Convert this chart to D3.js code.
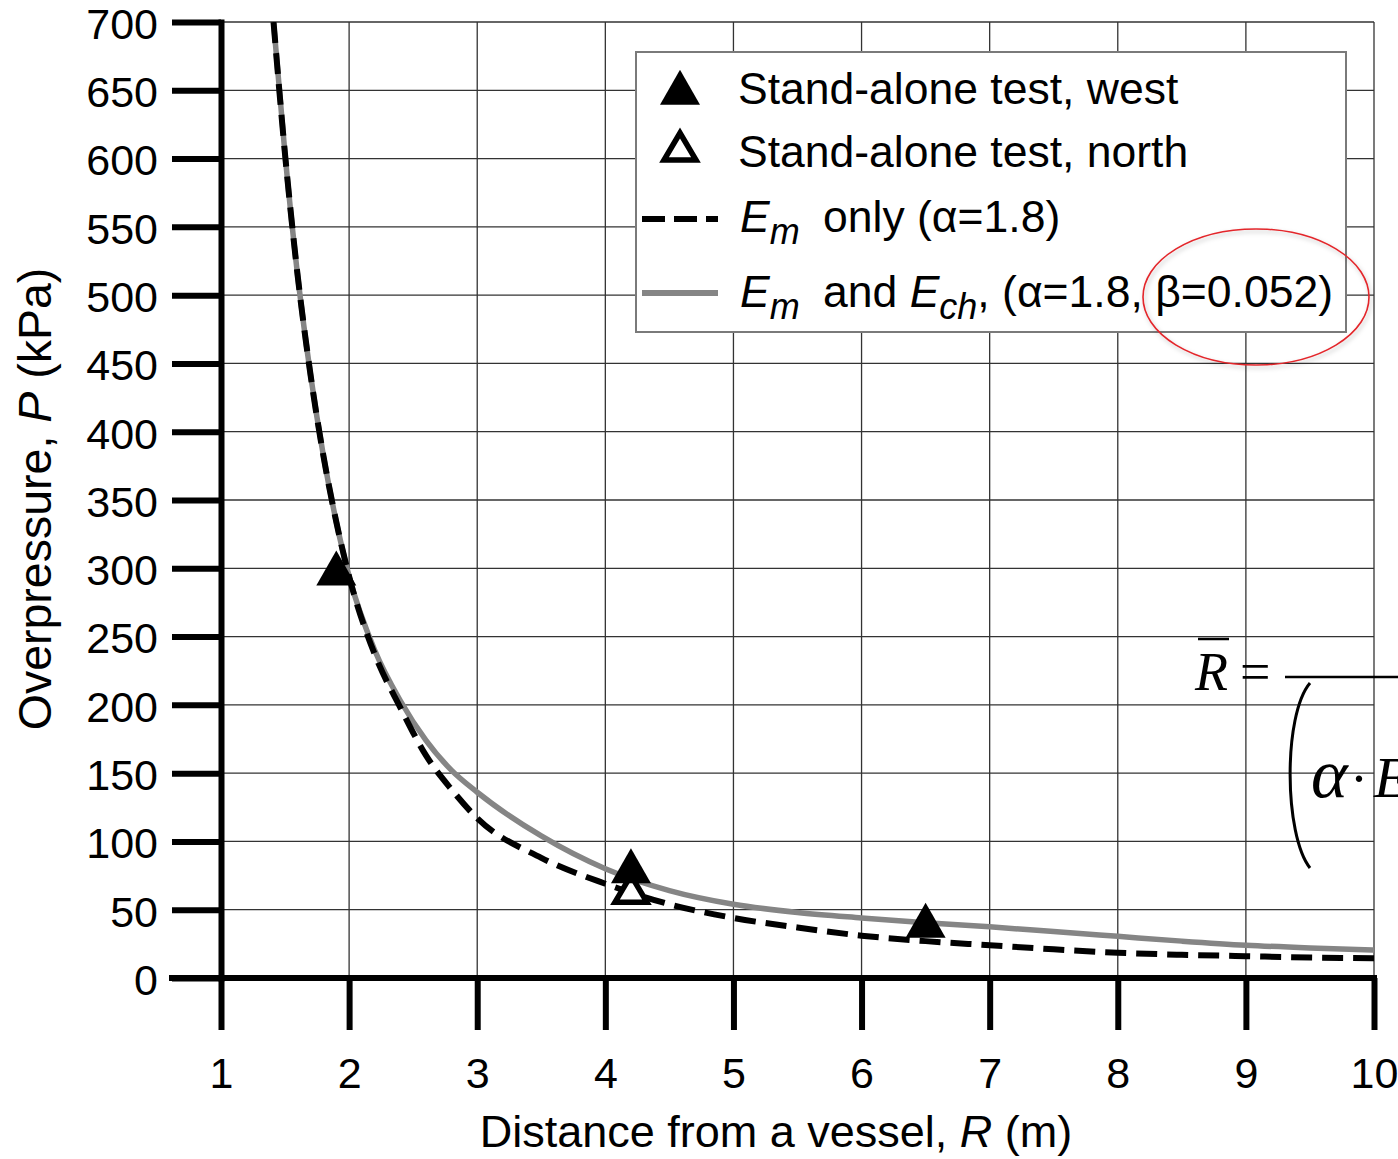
<!DOCTYPE html>
<html>
<head>
<meta charset="utf-8">
<script src="https://cdn.jsdelivr.net/npm/d3@7"></script>
<style>
  body { margin: 0; background: #fff; }
  svg { display: block; font-family: "Liberation Sans", Arial, sans-serif; }
</style>
</head>
<body>
<div id="chart"></div>
<script>
// curves
const distance = [1.41, 1.5, 1.6, 1.7, 1.8, 1.9, 2.0, 2.2, 2.4, 2.6, 2.8, 3.0, 3.5, 4.0, 4.5, 5.0, 5.5, 6.0, 6.5, 7.0, 7.5, 8.0, 8.5, 9.0, 9.5, 10.0]
const emOnly = [700, 603, 513, 441, 382, 334, 294, 237, 198, 163, 138, 117, 88, 69, 54, 44, 37, 31, 27, 24, 21, 18.5, 17, 16, 15, 14.5]
const emAndEch = [700, 603, 513, 441, 382, 334, 294, 240, 203, 174, 152, 136, 104, 80, 64, 54, 48, 44, 40.5, 37.5, 34, 30.5, 27, 24, 22, 20.5]

// test points
const westR = [1.9, 4.2, 6.5]
const westP = [296, 78, 38]
const northR = [4.2]
const northP = [62]

const xTicks = [1, 2, 3, 4, 5, 6, 7, 8, 9, 10]
const yTicks = [0, 50, 100, 150, 200, 250, 300, 350, 400, 450, 500, 550, 600, 650, 700]

const w = 1398, h = 1159
const plotL = 221, plotR = 1374, plotT = 22, plotB = 978

const svg = d3.select('#chart').append('svg')
  .attr('width', w)
  .attr('height', h)

const xScale = d3.scaleLinear().domain([1, 10]).range([plotL, plotR])
const yScale = d3.scaleLinear().domain([0, 700]).range([plotB, plotT])

//grid
const grid = svg.append('g').attr('stroke', '#333').attr('stroke-width', 1.3)
grid.selectAll('.gx').data(xTicks).enter().append('line')
  .attr('x1', d => xScale(d)).attr('x2', d => xScale(d))
  .attr('y1', plotT).attr('y2', plotB)
grid.selectAll('.gy').data(yTicks).enter().append('line')
  .attr('x1', plotL).attr('x2', plotR)
  .attr('y1', d => yScale(d)).attr('y2', d => yScale(d))

svg.append('clipPath').attr('id', 'plot')
  .append('rect').attr('x', plotL).attr('y', plotT).attr('width', plotR - plotL).attr('height', plotB - plotT)

const line = d3.line()
  .x(d => xScale(d[0]))
  .y(d => yScale(d[1]))
  .curve(d3.curveMonotoneX)

svg.append('path')
  .datum(distance.map((d, i) => [d, emAndEch[i]]))
  .attr('clip-path', 'url(#plot)')
  .attr('fill', 'none')
  .attr('stroke', '#858585')
  .attr('stroke-width', 5.5)
  .attr('d', line)

svg.append('path')
  .datum(distance.map((d, i) => [d, emOnly[i]]))
  .attr('clip-path', 'url(#plot)')
  .attr('fill', 'none')
  .attr('stroke', '#000')
  .attr('stroke-width', 6)
  .attr('stroke-dasharray', '21,10')
  .attr('d', line)

// triangle marker, centred on its centroid
const tri = (wd, ht) => `M0,${-2 * ht / 3}L${wd / 2},${ht / 3}L${-wd / 2},${ht / 3}Z`

svg.selectAll('.north').data(northR).enter().append('path')
  .attr('transform', (d, i) => `translate(${xScale(d)},${yScale(northP[i])})`)
  .attr('d', tri(32, 27))
  .attr('fill', '#fff').attr('stroke', '#000').attr('stroke-width', 5.5)

svg.selectAll('.west').data(westR).enter().append('path')
  .attr('transform', (d, i) => `translate(${xScale(d)},${yScale(westP[i])})`)
  .attr('d', tri(40, 35))
  .attr('fill', '#000')

//axes
const xAxis = d3.axisBottom(xScale).tickValues(xTicks).tickSize(52).tickSizeOuter(0).tickPadding(27)
const yAxis = d3.axisLeft(yScale).tickValues(yTicks).tickSize(49).tickSizeOuter(0).tickPadding(14)

const gx = svg.append('g').attr('transform', `translate(0,${plotB})`).call(xAxis)
const gy = svg.append('g').attr('transform', `translate(${plotL},0)`).call(yAxis)

;[gx, gy].forEach(g => {
  g.select('.domain').attr('stroke-width', 6).attr('stroke-linecap', 'square')
  g.selectAll('.tick line').attr('stroke-width', 6)
  g.selectAll('.tick text').attr('font-size', 43).attr('font-family', '"Liberation Sans", Arial, sans-serif').attr('fill', '#000')
})
gx.select('.domain').attr('d', `M${plotL - 49},0H${plotR}`)
gy.selectAll('.tick text').attr('dy', '0.38em')

// axis titles
svg.append('text')
  .attr('x', 776).attr('y', 1147)
  .attr('text-anchor', 'middle').attr('font-size', 45)
  .html('Distance from a vessel, <tspan font-style="italic">R</tspan> (m)')

svg.append('text')
  .attr('transform', 'translate(51,499) rotate(-90)')
  .attr('text-anchor', 'middle').attr('font-size', 46.5)
  .html('Overpressure, <tspan font-style="italic">P</tspan> (kPa)')

//legend
const lg = svg.append('g')
lg.append('rect')
  .attr('x', 636).attr('y', 52).attr('width', 710).attr('height', 280)
  .attr('fill', '#fff').attr('stroke', '#7a7a7a').attr('stroke-width', 2)

lg.append('path').attr('transform', 'translate(680,93)').attr('d', tri(40, 35)).attr('fill', '#000')
lg.append('path').attr('transform', 'translate(680,151)').attr('d', tri(32, 27))
  .attr('fill', '#fff').attr('stroke', '#000').attr('stroke-width', 5.5)
lg.append('line').attr('x1', 642).attr('x2', 718).attr('y1', 219).attr('y2', 219)
  .attr('stroke', '#000').attr('stroke-width', 6).attr('stroke-dasharray', '23,9')
lg.append('line').attr('x1', 642).attr('x2', 718).attr('y1', 293).attr('y2', 293)
  .attr('stroke', '#858585').attr('stroke-width', 6)

lg.append('text').attr('x', 738).attr('y', 104).attr('font-size', 44.5).text('Stand-alone test, west')
lg.append('text').attr('x', 738).attr('y', 167).attr('font-size', 44.5).text('Stand-alone test, north')
lg.append('text').attr('x', 740).attr('y', 232).attr('font-size', 44.5)
  .html('<tspan font-style="italic">E</tspan><tspan font-style="italic" font-size="36" dy="12">m</tspan>' +
        '<tspan x="823" dy="-12">only (α=1.8)</tspan>')
lg.append('text').attr('x', 740).attr('y', 307).attr('font-size', 44.5)
  .html('<tspan font-style="italic">E</tspan><tspan font-style="italic" font-size="36" dy="12">m</tspan>' +
        '<tspan x="823" dy="-12">and </tspan><tspan font-style="italic">E</tspan>' +
        '<tspan font-style="italic" font-size="36" dy="12">ch</tspan><tspan dy="-12">, (α=1.8, β=0.052)</tspan>')

// red ring drawn over the legend
const defs = svg.append('defs')
defs.append('filter').attr('id', 'shadow').attr('x', '-20%').attr('y', '-20%').attr('width', '140%').attr('height', '140%')
  .append('feDropShadow').attr('dx', 1.5).attr('dy', 2.5).attr('stdDeviation', 2)
  .attr('flood-color', '#000').attr('flood-opacity', 0.25)
svg.append('ellipse')
  .attr('cx', 1256).attr('cy', 297).attr('rx', 113).attr('ry', 68)
  .attr('fill', 'none').attr('stroke', '#e3262b').attr('stroke-width', 1.6)
  .attr('filter', 'url(#shadow)')

// pasted formula fragment at the right edge
const fm = svg.append('g').attr('font-family', '"Liberation Serif", "Times New Roman", serif')
fm.append('text').attr('x', 1195).attr('y', 690).attr('font-size', 54).attr('font-style', 'italic').text('R')
fm.append('line').attr('x1', 1198).attr('x2', 1229).attr('y1', 639).attr('y2', 639).attr('stroke', '#000').attr('stroke-width', 2.5)
fm.append('text').attr('x', 1240).attr('y', 690).attr('font-size', 54).text('=')
fm.append('line').attr('x1', 1285).attr('x2', 1400).attr('y1', 677).attr('y2', 677).attr('stroke', '#000').attr('stroke-width', 2.5)
fm.append('path').attr('d', 'M1310,683C1283,715 1284,835 1310,868')
  .attr('fill', 'none').attr('stroke', '#000').attr('stroke-width', 3)
fm.append('text').attr('x', 1311).attr('y', 797).attr('font-size', 70).attr('font-style', 'italic').text('α')
fm.append('text').attr('x', 1350).attr('y', 797).attr('font-size', 54).text('·')
fm.append('text').attr('x', 1374).attr('y', 797).attr('font-size', 58).attr('font-style', 'italic').text('E')
</script>
</body>
</html>
